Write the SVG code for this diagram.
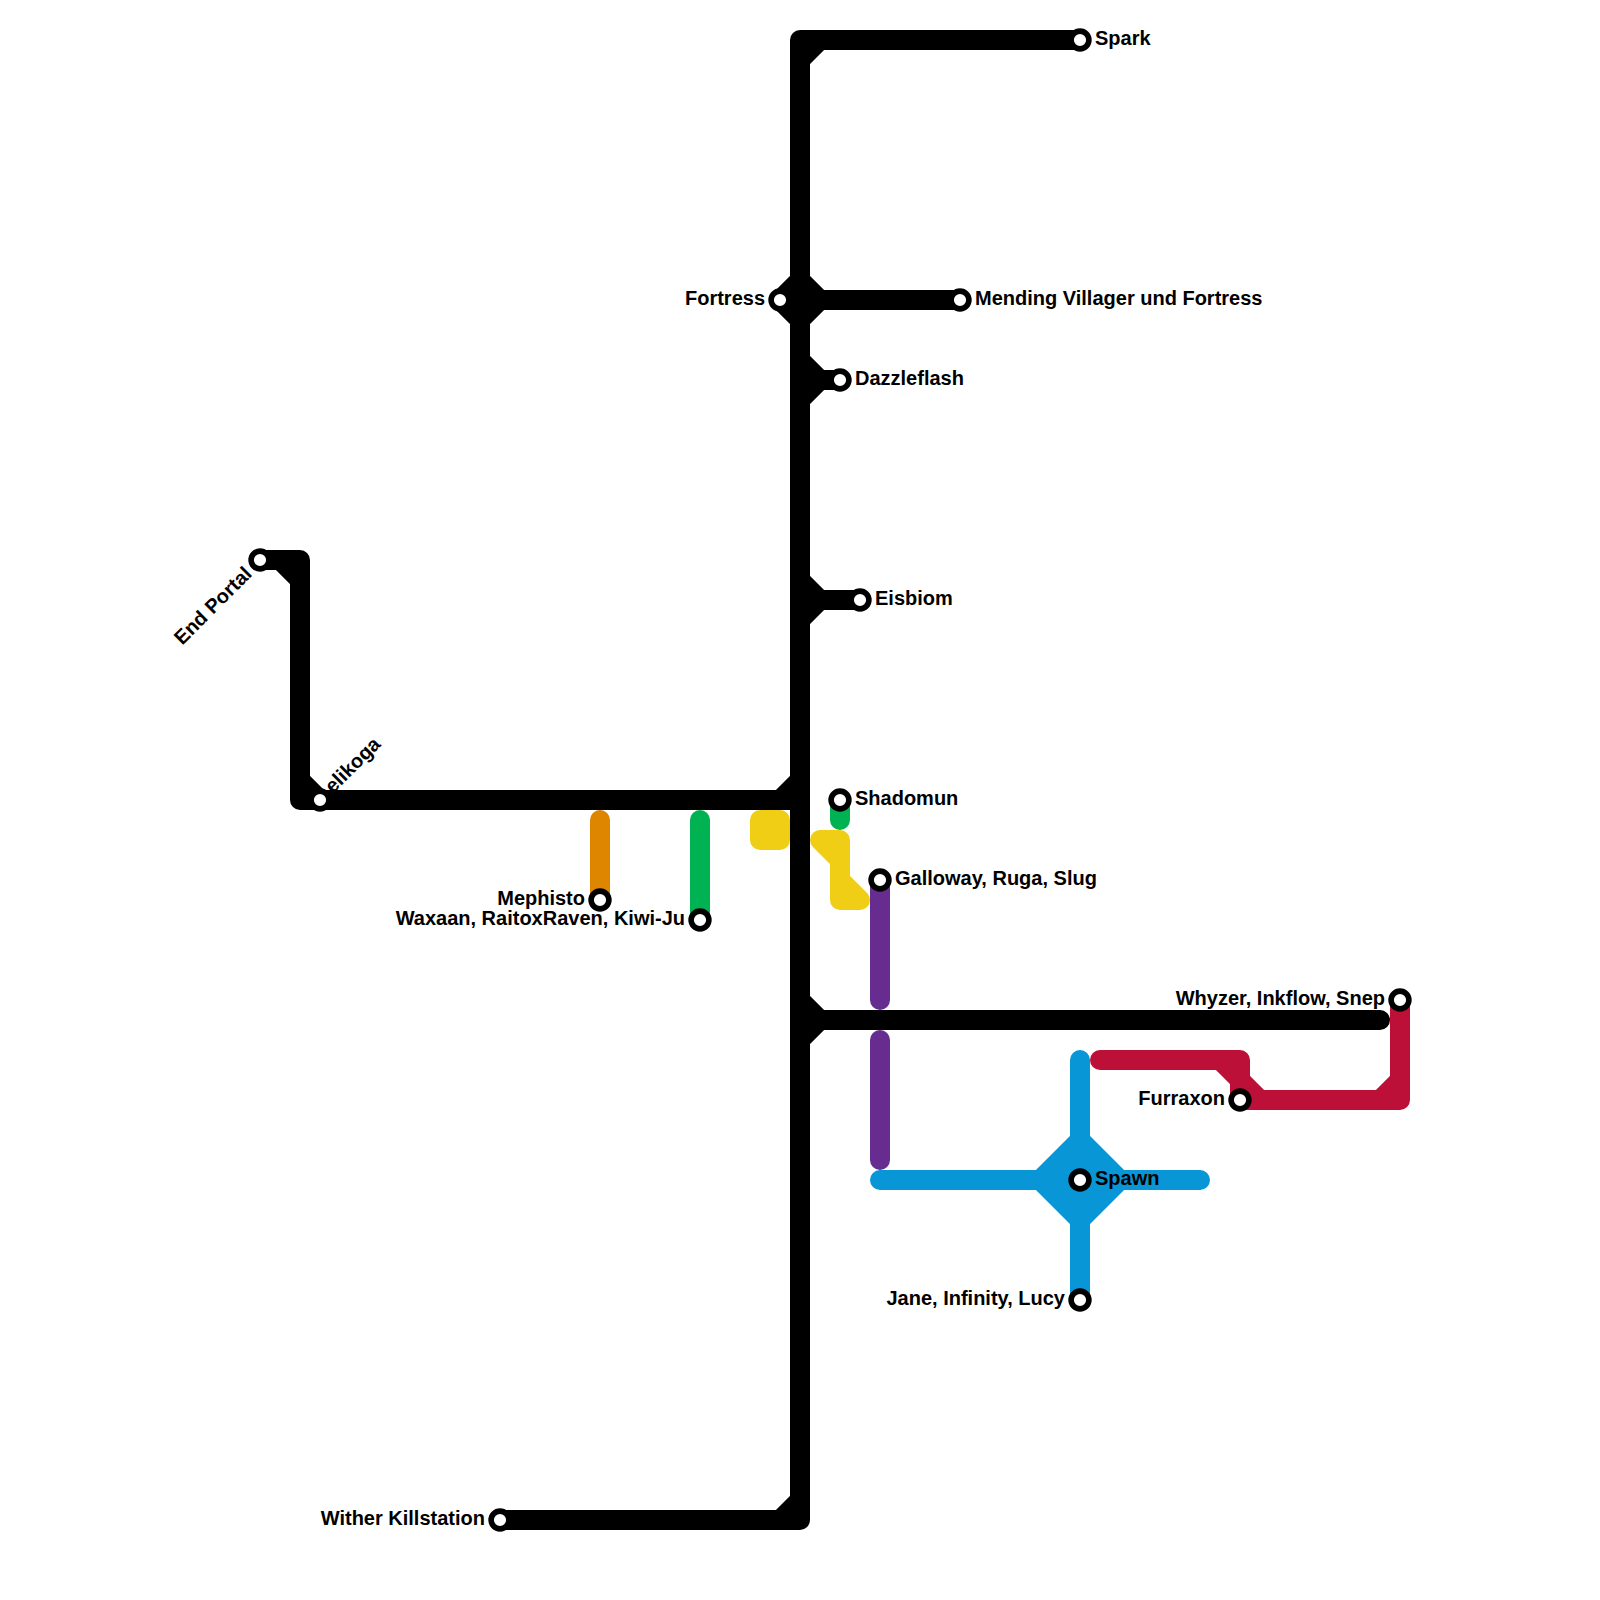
<svg xmlns="http://www.w3.org/2000/svg" width="1600" height="1600" viewBox="0 0 1600 1600">
<style>
.l{fill:none;stroke-width:20;stroke-linecap:round;stroke-linejoin:round}
.k{stroke:#000}.o{stroke:#df8600}.g{stroke:#00b251}.y{stroke:#f0ce15}.p{stroke:#662c90}.b{stroke:#0896d7}.r{stroke:#bd1038}
.s{fill:#fff;stroke:#000;stroke-width:5.6}
text{font-family:"Liberation Sans",Arial,sans-serif;font-weight:700;font-size:20px;fill:#000}
.e{text-anchor:end}
</style>
<rect width="1600" height="1600" fill="#fff"/>
<g id="connectors">
<path class="l o" d="M600,820V900"/>
<path class="l g" d="M700,820V920M840,800V820"/>
<path class="l y" d="M760,820H780V840H760ZM780,830H760"/>
<path class="l y" d="M820,840H840V900H860M820,840L840,860M840,880L860,900"/>
<path class="l p" d="M880,880V1000M880,1040V1160"/>
<path class="l b" d="M880,1180H1200M1080,1060V1300"/>
<path class="l b" style="fill:#0896d7" d="M1080,1140L1120,1180L1080,1220L1040,1180Z"/>
<path class="l r" d="M1100,1060H1240V1100H1400V1000M1220,1060L1240,1080L1260,1100M1380,1100L1400,1080"/>
<path class="l k" d="M500,1520H800V40H1080M780,1520L800,1500M820,40L800,60"/>
<path class="l k" d="M260,560H300V800H800M280,560L300,580M300,780L320,800M780,800L800,780"/>
<path class="l k" d="M780,300H960M800,280L820,300L800,320L780,300Z"/>
<path class="l k" d="M800,380H840M800,360L820,380L800,400"/>
<path class="l k" d="M800,600H860M800,580L820,600L800,620"/>
<path class="l k" d="M800,1020H1380M800,1000L820,1020L800,1040"/>
</g>
<g id="spark"><circle class="s" cx="1080" cy="40" r="8.9"/><text x="1095" y="45">Spark</text></g>
<g id="mending"><circle class="s" cx="960" cy="300" r="8.9"/><text x="975" y="305">Mending Villager und Fortress</text></g>
<g id="fortress"><circle class="s" cx="780" cy="300" r="8.9"/><text class="e" x="765" y="305">Fortress</text></g>
<g id="dazzleflash"><circle class="s" cx="840" cy="380" r="8.9"/><text x="855" y="385">Dazzleflash</text></g>
<g id="eisbiom"><circle class="s" cx="860" cy="600" r="8.9"/><text x="875" y="605">Eisbiom</text></g>
<g id="shadomun"><circle class="s" cx="840" cy="800" r="8.9"/><text x="855" y="805">Shadomun</text></g>
<g id="galloway"><circle class="s" cx="880" cy="880" r="8.9"/><text x="895" y="885">Galloway, Ruga, Slug</text></g>
<g id="whyzer"><circle class="s" cx="1400" cy="1000" r="8.9"/><text class="e" x="1385" y="1005">Whyzer, Inkflow, Snep</text></g>
<g id="furraxon"><circle class="s" cx="1240" cy="1100" r="8.9"/><text class="e" x="1225" y="1105">Furraxon</text></g>
<g id="spawn"><circle class="s" cx="1080" cy="1180" r="8.9"/><text x="1095" y="1185">Spawn</text></g>
<g id="jane"><circle class="s" cx="1080" cy="1300" r="8.9"/><text class="e" x="1065" y="1305">Jane, Infinity, Lucy</text></g>
<g id="mephisto"><circle class="s" cx="600" cy="900" r="8.9"/><text class="e" x="585" y="905">Mephisto</text></g>
<g id="waxaan"><circle class="s" cx="700" cy="920" r="8.9"/><text class="e" x="685" y="925">Waxaan, RaitoxRaven, Kiwi-Ju</text></g>
<g id="wither"><circle class="s" cx="500" cy="1520" r="8.9"/><text class="e" x="485" y="1525">Wither Killstation</text></g>
<g id="endportal"><circle class="s" cx="260" cy="560" r="8.9"/><text class="e" transform="translate(253,575) rotate(-45)">End Portal</text></g>
<g id="elikoga"><circle class="s" cx="320" cy="800" r="8.9"/><text transform="translate(333,794) rotate(-45)">elikoga</text></g>
</svg>
